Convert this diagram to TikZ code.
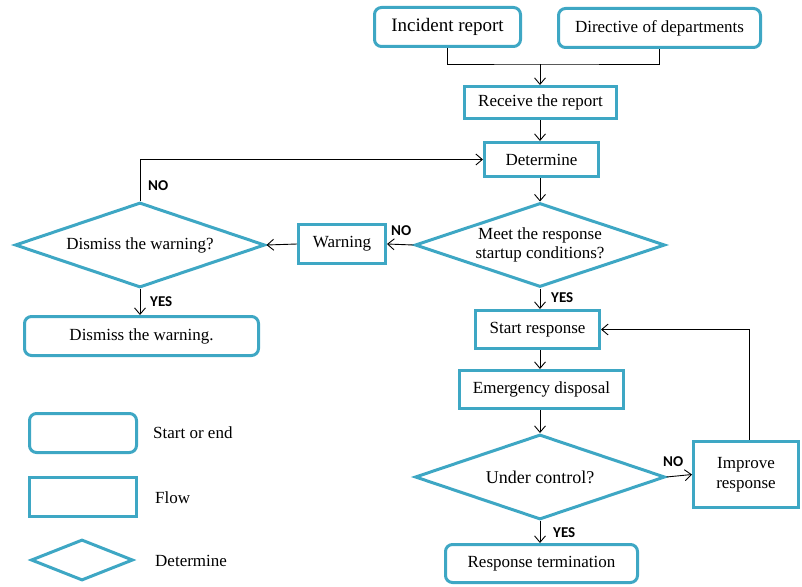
\documentclass[tikz,border=0pt]{standalone}
\usepackage{fontspec}
\setmainfont{Liberation Serif}
\newfontfamily\labfont{Carlito}
\usetikzlibrary{shapes.geometric,arrows.meta}
\definecolor{bl}{HTML}{3EA7C4}
\begin{document}
\begin{tikzpicture}[x=1pt,y=-1pt,
 base/.style={draw=bl,line width=3pt,font=\fontsize{17}{19.5}\selectfont,align=center,inner sep=0pt},
 rbox/.style={base,rectangle,rounded corners=7pt},
 fbox/.style={base,rectangle},
 dbox/.style={base,diamond,aspect=3},
 arr/.style={-{Straight Barb[length=6.5pt,width=11pt]},line width=0.9pt},
 con/.style={line width=0.9pt},
 lbl/.style={font=\labfont\bfseries\fontsize{15}{17}\selectfont,inner sep=0pt,anchor=west},
 txt/.style={font=\fontsize{17}{19.5}\selectfont,inner sep=0pt,anchor=west}]
\useasboundingbox (0,0) rectangle (802,586);

% nodes
\node[rbox,minimum width=146,minimum height=39,font=\fontsize{19}{22}\selectfont] (inc) at (447.5,27) {Incident report};
\node[rbox,minimum width=202,minimum height=39,font=\fontsize{17}{20}\selectfont] (dir) at (659.5,28) {Directive of departments};
\node[fbox,minimum width=152,minimum height=32] (rec) at (540.5,102.5) {Receive the report};
\node[fbox,minimum width=114,minimum height=34] (det) at (541.5,159.5) {Determine};
\node[dbox,minimum width=250,minimum height=84] (meet) at (540,245) {Meet the response\\startup conditions?};
\node[fbox,minimum width=87,minimum height=39] (warn) at (342,244) {Warning};
\node[dbox,minimum width=250,minimum height=85] (dis) at (140,245) {Dismiss the warning?};
\node[rbox,minimum width=234,minimum height=39] (dism) at (141.5,336) {Dismiss the warning.};
\node[fbox,minimum width=124,minimum height=38] (start) at (537.5,329.5) {Start response};
\node[fbox,minimum width=164,minimum height=38] (emer) at (541.5,389.5) {Emergency disposal};
\node[dbox,minimum width=250,minimum height=85,font=\fontsize{18}{20}\selectfont] (under) at (540,477) {Under control?};
\node[fbox,minimum width=105,minimum height=66] (imp) at (746,474.5) {Improve\\response};
\node[rbox,minimum width=192,minimum height=38] (term) at (541.5,563.5) {Response termination};

% connectors
\coordinate (j) at (540,64);
\draw[con] (inc.south) |- (j) -| (dir.south);
\draw[arr] (j) -- (j |- rec.north);
\draw[arr] (rec.south -| meet) -- (det.north -| meet);
\draw[arr] (det.south -| meet) -- (meet.north);
\draw[arr] (meet.west) -- (warn.east);
\draw[arr] (warn.west) -- (dis.east);
\draw[arr] (dis.north) |- (det.west);
\draw[arr] (dis.south) -- (dis.south |- dism.north);
\draw[arr] (meet.south) -- (meet.south |- start.north);
\draw[arr] (start.south -| meet) -- (emer.north -| meet);
\draw[arr] (emer.south -| meet) -- (under.north);
\draw[arr] (under.east) -- (imp.west);
\draw[arr] ([xshift=3pt]imp.north) |- (start.east);
\draw[arr] (under.south) -- (under.south |- term.north);

% labels
\node[lbl] (no1) at (148,186) {NO};
\node[lbl] (yes1) at (150,302) {YES};
\node[lbl] (no2) at (391,231) {NO};
\node[lbl] (yes2) at (551,298) {YES};
\node[lbl] (no3) at (663,462) {NO};
\node[lbl] (yes3) at (553,533) {YES};

% legend
\node[rbox,minimum width=107,minimum height=39] (lg1) at (83,433) {};
\node[txt] (lt1) at (153,433) {Start or end};
\node[fbox,minimum width=107,minimum height=39] (lg2) at (83,497) {};
\node[txt] (lt2) at (155,498) {Flow};
\node[dbox,minimum width=102,minimum height=41] (lg3) at (82,560) {};
\node[txt] (lt3) at (155,561) {Determine};
\end{tikzpicture}
\end{document}
